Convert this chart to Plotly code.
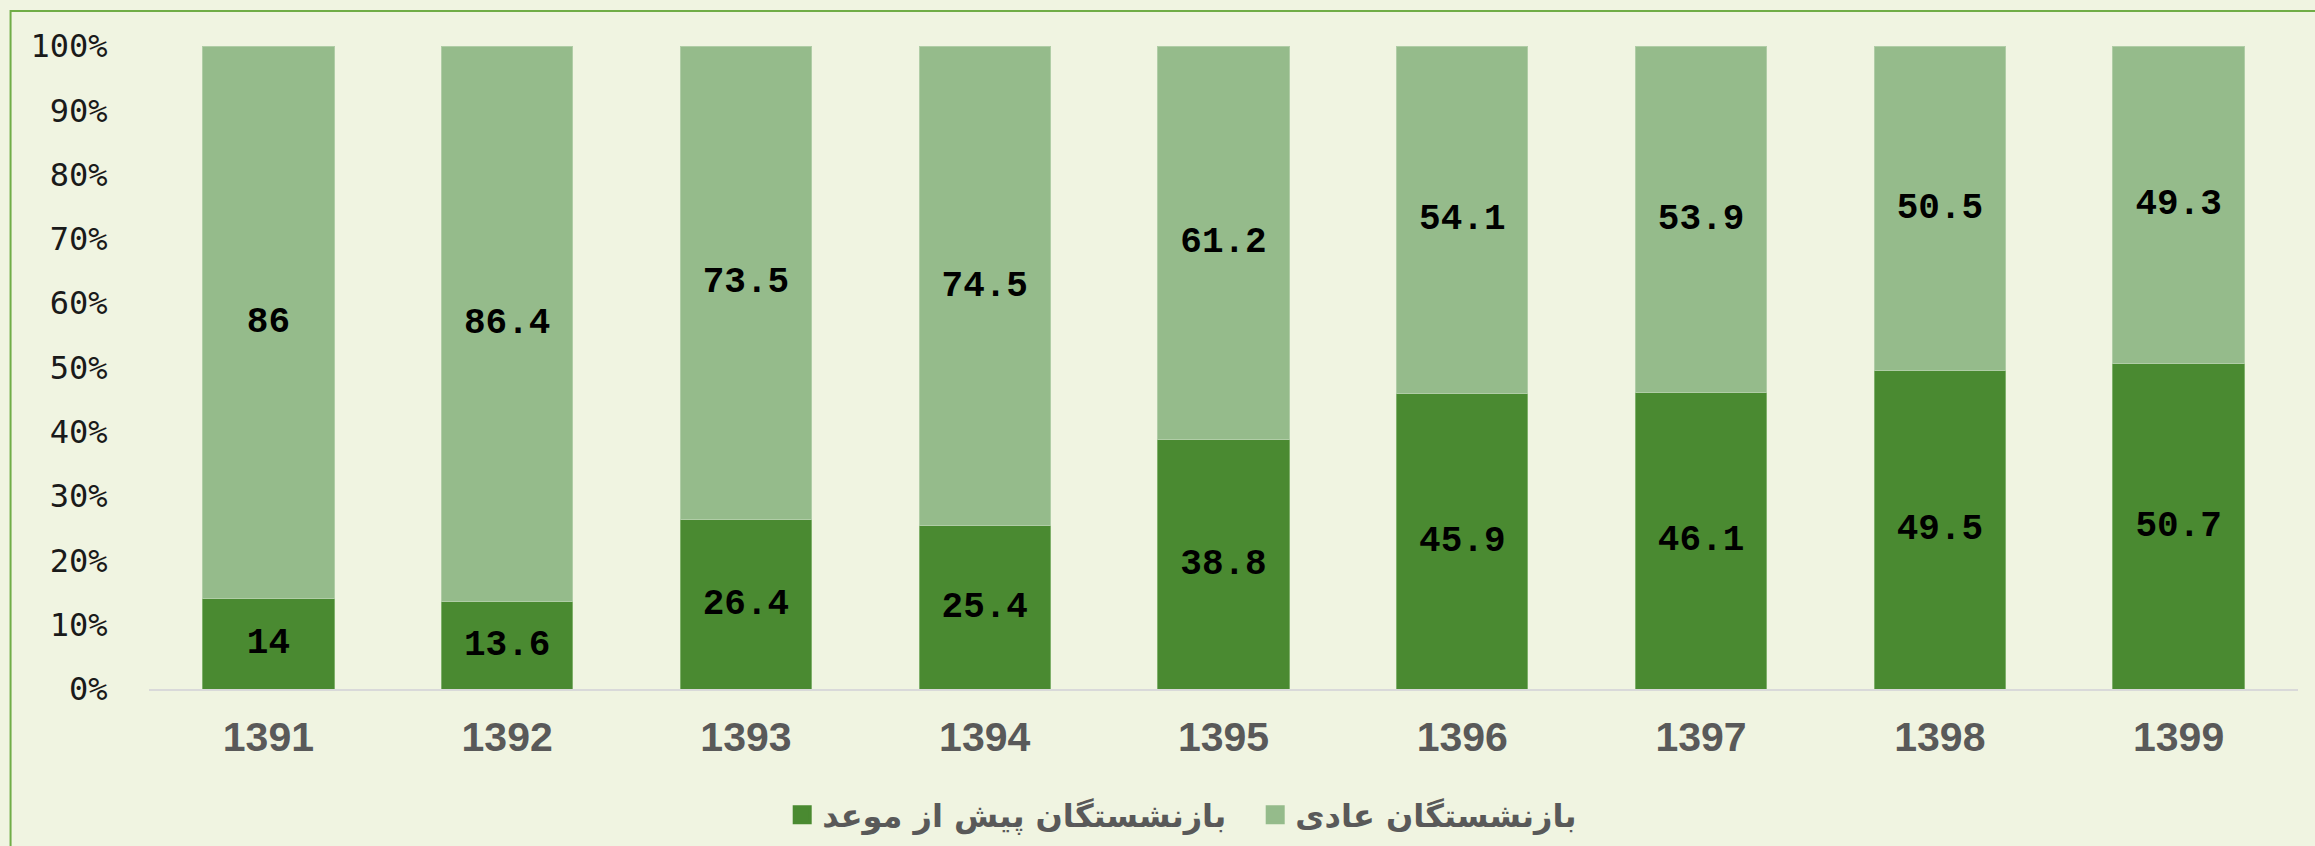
import plotly.graph_objects as go

years = ["1391", "1392", "1393", "1394", "1395", "1396", "1397", "1398", "1399"]
early = [14, 13.6, 26.4, 25.4, 38.8, 45.9, 46.1, 49.5, 50.7]
regular = [86, 86.4, 73.5, 74.5, 61.2, 54.1, 53.9, 50.5, 49.3]
name_early = "بازنشستگان پیش از موعد"
name_regular = "بازنشستگان عادی"
yticks = list(range(0, 101, 10))
ytick_text = [f"{v}%" for v in yticks]

W, H = 2315, 846
L, R, T, B = 148.5, 16.5, 46, 157
pw, ph = W - L - R, H - T - B
BG = "#F0F4E1"
DARK, LIGHT = "#4A8A31", "#95BB8B"

label_font = dict(family="Liberation Mono, Courier New, monospace", size=36, color="#000000")

fig = go.Figure()
fig.add_trace(go.Bar(
    x=years, y=early, name=name_early, showlegend=False,
    marker=dict(color=DARK, line=dict(color="#7FB06A", width=1)),
    text=[f"<b>{v:g}</b>" for v in early], textposition="inside",
    insidetextanchor="middle", textangle=0, constraintext="none",
    textfont=label_font, hoverinfo="skip",
))
fig.add_trace(go.Bar(
    x=years, y=regular, name=name_regular, showlegend=False,
    marker=dict(color=LIGHT, line=dict(color="#B0CDA6", width=1)),
    text=[f"<b>{v:g}</b>" for v in regular], textposition="inside",
    insidetextanchor="middle", textangle=0, constraintext="none",
    textfont=label_font, hoverinfo="skip",
))
# legend entries (square swatches)
for nm, col in [(name_early, DARK), (name_regular, LIGHT)]:
    fig.add_trace(go.Scatter(
        x=[None], y=[None], name=nm, mode="markers",
        marker=dict(symbol="square", size=20, color=col, line=dict(color=col, width=3)),
    ))

fig.update_layout(
    width=W, height=H, barmode="stack", bargap=0.45,
    paper_bgcolor=BG, plot_bgcolor=BG,
    margin=dict(l=L, r=R, t=T, b=B, pad=0, autoexpand=False),
    showlegend=True,
    legend=dict(
        orientation="h", x=(782 - L) / pw, xanchor="left",
        y=-(815 - (T + ph)) / ph, yanchor="middle",
        font=dict(family="DejaVu Sans, Noto Sans", size=32, color="#595959", weight="bold"),
        bgcolor="rgba(0,0,0,0)", itemsizing="trace", traceorder="normal",
        entrywidth=428, entrywidthmode="pixels",
    ),
    xaxis=dict(
        showline=True, linecolor="#D9D9D9", linewidth=2,
        showgrid=False, ticks="outside", ticklen=0, ticklabelstandoff=11,
        tickfont=dict(family="Liberation Sans, Arial", size=41, color="#595959", weight="bold"),
    ),
    yaxis=dict(
        range=[0, 100], tickmode="array", tickvals=yticks, ticktext=ytick_text,
        showgrid=False, showline=False, zeroline=False,
        ticks="outside", ticklen=0, ticklabelstandoff=34,
        tickfont=dict(family="DejaVu Sans Mono, monospace", size=32, color="#1a1a1a"),
    ),
    shapes=[dict(
        type="rect", xref="paper", yref="paper",
        x0=(10 - L) / pw, x1=(W + 20 - L) / pw,
        y0=-(H + 20 - (T + ph)) / ph, y1=((T + ph) - 11) / ph,
        line=dict(color="#70AD47", width=2), fillcolor="rgba(0,0,0,0)", layer="below",
    )],
)

fig.write_html(
    "out.html",
    config={"displayModeBar": False},
    post_script=f"document.body.style.margin='0px';document.body.style.background='{BG}';document.body.style.overflow='hidden';",
)
